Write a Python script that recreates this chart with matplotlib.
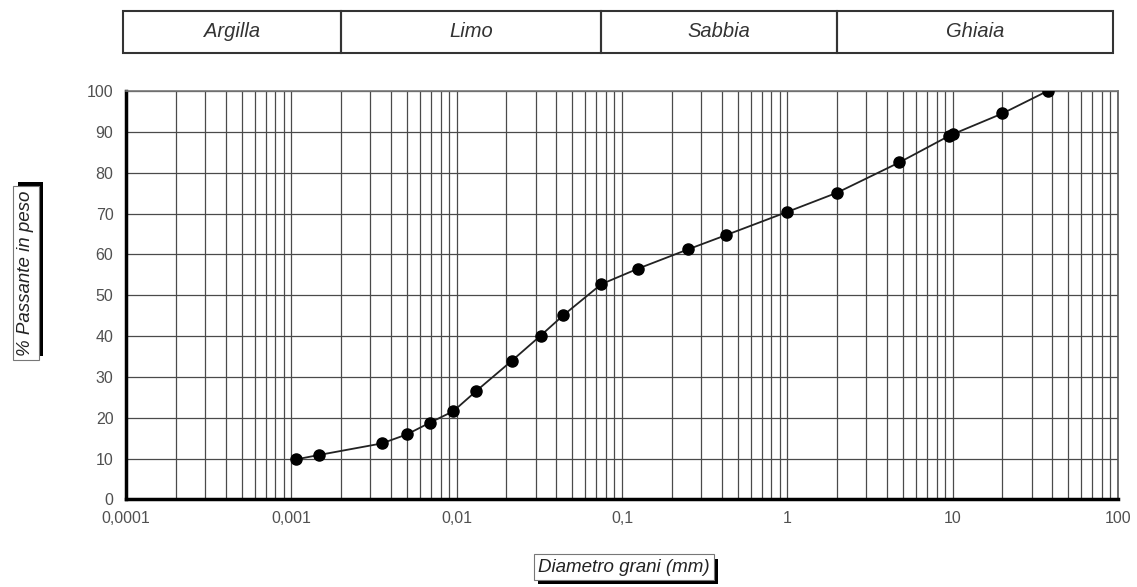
import matplotlib
matplotlib.use('Agg')
import matplotlib.pyplot as plt
import matplotlib.patheffects as pe
from matplotlib.patches import Rectangle

# grain size curve
diametro = [0.00107, 0.00148, 0.00352, 0.00499, 0.0069, 0.00955, 0.0131, 0.0215,
            0.0322, 0.0442, 0.075, 0.125, 0.25, 0.425, 1.0, 2.0, 4.75, 9.5, 10.0,
            20.0, 37.5]
passante = [9.8, 10.9, 13.7, 15.9, 18.8, 21.6, 26.5, 33.9, 40.1, 45.1, 52.7, 56.5,
            61.2, 64.7, 70.4, 75.1, 82.5, 89.0, 89.4, 94.5, 100.0]

# soil classes along the top
classi = ['Argilla', 'Limo', 'Sabbia', 'Ghiaia']
limiti = [0.0001, 0.002, 0.075, 2.0, 100.0]

x_ticks = [0.0001, 0.001, 0.01, 0.1, 1, 10, 100]
x_labels = ['0,0001', '0,001', '0,01', '0,1', '1', '10', '100']
y_ticks = list(range(0, 101, 10))

plt.rcParams['font.family'] = ['Liberation Sans', 'DejaVu Sans']

fig = plt.figure(figsize=(11.37, 5.87), dpi=100)
W, H = 1137.0, 587.0

# main chart
ax = fig.add_axes([126 / W, 1 - 499.4 / H, (1118 - 126) / W, (499.4 - 91) / H])
ax.set_xscale('log')
ax.set_xlim(0.0001, 100)
ax.set_ylim(0, 100)

ax.grid(which='both', axis='x', color='#4a4a4a', linewidth=0.9)
ax.grid(which='major', axis='y', color='#4a4a4a', linewidth=0.9)

ax.plot(diametro, passante, color='#222222', linewidth=1.3, marker='o',
        markersize=8, markerfacecolor='black', markeredgecolor='black', zorder=5)

ax.set_xticks(x_ticks)
ax.set_xticklabels(x_labels)
ax.set_yticks(y_ticks)
ax.tick_params(which='both', length=0, labelsize=11.5, labelcolor='#505050')
ax.tick_params(axis='y', pad=9)
ax.tick_params(axis='x', pad=8)

ax.spines['left'].set_linewidth(2.5)
ax.spines['bottom'].set_linewidth(2.5)
ax.spines['left'].set_color('black')
ax.spines['bottom'].set_color('black')
ax.spines['top'].set_color('#777777')
ax.spines['right'].set_color('#555555')
ax.spines['top'].set_linewidth(1.2)
ax.spines['right'].set_linewidth(1.2)
ax.set_axisbelow(True)

# class band on top
axb = fig.add_axes([126 / W, 1 - 52.7 / H, (1118 - 126) / W, (52.7 - 11) / H])
axb.set_xscale('log')
axb.set_xlim(0.0001, 100)
axb.set_ylim(0, 1)
axb.axis('off')
for i in range(len(classi)):
    x0 = limiti[i] * 0.96 if i == 0 else limiti[i]
    x1 = limiti[i + 1] * 0.93 if i == len(classi) - 1 else limiti[i + 1]
    axb.add_patch(Rectangle((x0, 0), x1 - x0, 1, fill=False, edgecolor='#333333',
                            linewidth=1.5, clip_on=False))
    xm = (x0 * x1) ** 0.5
    axb.text(xm, 0.5, classi[i], ha='center', va='center', style='italic',
             fontsize=14.5, color='#333333')


def label_with_shadow(x, y, txt, rotation):
    # boxed italic label with a black drop shadow
    t = fig.text(x, y, txt, ha='center', va='center', rotation=rotation,
                 style='italic', fontsize=13.5, color='#222222',
                 bbox=dict(boxstyle='square,pad=0.22', facecolor='white',
                           edgecolor='#777777', linewidth=0.8))
    off = (3, 3) if rotation == 90 else (3, -3)
    t.get_bbox_patch().set_path_effects([
        pe.SimplePatchShadow(offset=off, shadow_rgbFace='black', alpha=1.0),
        pe.Normal()])


label_with_shadow(26 / W, 1 - 273 / H, '% Passante in peso', 90)
label_with_shadow(624 / W, 1 - 567 / H, 'Diametro grani (mm)', 0)

plt.savefig('out.png', dpi=100)
plt.close()
